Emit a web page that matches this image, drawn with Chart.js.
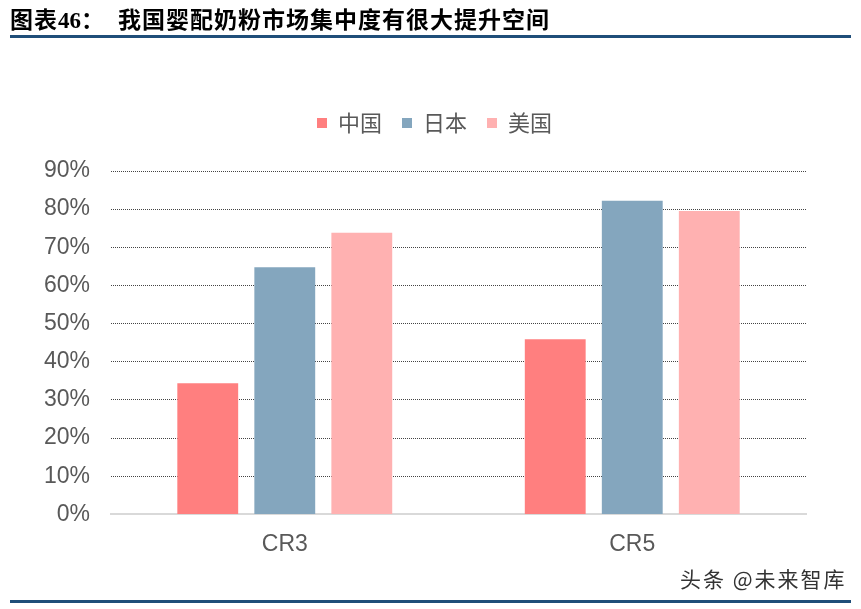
<!DOCTYPE html>
<html><head><meta charset="utf-8">
<script src="https://cdn.jsdelivr.net/npm/chart.js@4.4.1/dist/chart.umd.min.js"></script>
<style>
html,body{margin:0;padding:0;background:#fff;width:861px;height:609px;overflow:hidden;}
#wrap{position:absolute;left:0;top:0;width:861px;height:609px;}
.t{position:absolute;top:1px;font-family:"Noto Sans CJK SC",sans-serif;font-weight:bold;font-size:23px;color:#000;white-space:nowrap;letter-spacing:1px;}
.num{font-family:"Liberation Serif",serif;font-weight:bold;letter-spacing:0;}
.rule{position:absolute;left:10px;width:841px;height:3px;background:#1f4e79;}
#mark{position:absolute;left:680px;top:563px;font-family:"Noto Sans CJK SC",sans-serif;font-size:21px;color:#333;white-space:nowrap;letter-spacing:2px;}
canvas{position:absolute;left:0;top:0;}
</style></head>
<body><div id="wrap">
<canvas id="c" width="861" height="609"></canvas>
<div class="t" style="left:10px">图表<span class="num">46</span>：</div>
<div class="t" style="left:118px">我国婴配奶粉市场集中度有很大提升空间</div>
<div class="rule" style="top:35px"></div>
<div class="rule" style="top:600px"></div>
<div id="mark">头条 @未来智库</div>
</div>
<script>
const categories = ["CR3", "CR5"];
const seriesNames = ["中国", "日本", "美国"];
const china = [0.344, 0.459];
const japan = [0.648, 0.822];
const usa = [0.738, 0.795];
const yTicks = [0, 0.1, 0.2, 0.3, 0.4, 0.5, 0.6, 0.7, 0.8, 0.9];
const colors = ["#FF7F7F", "#84A6BE", "#FFB1B1"];

const values = [china, japan, usa];
const legendGap = {
  id: 'legendGap',
  beforeInit(chart) {
    const orig = chart.legend.fit;
    chart.legend.fit = function () { orig.call(this); this.height += 27; };
  },
  afterLayout(chart) {
    const lg = chart.legend;
    lg.left += 20; lg.right += 20;
  }
};
new Chart(document.getElementById('c'), {
  type: 'bar',
  data: {
    labels: categories,
    datasets: seriesNames.map((n, i) => ({
      label: n, data: values[i], backgroundColor: colors[i],
      borderWidth: 0, categoryPercentage: 0.665, barPercentage: 0.79
    }))
  },
  plugins: [legendGap],
  options: {
    responsive: false, animation: false,
    layout: {padding: {top: 92, left: 23, right: 55, bottom: 35}},
    plugins: {
      tooltip: {enabled: false},
      legend: {
        position: 'top',
        labels: {
          boxWidth: 10, boxHeight: 10, padding: 20,
          color: '#595959',
          font: {family: '"Noto Sans CJK SC", sans-serif', size: 22}
        }
      }
    },
    scales: {
      x: {
        grid: {display: false, drawTicks: false},
        border: {display: true, color: '#d9d9d9', width: 2},
        ticks: {color: '#595959', padding: 16, font: {family: '"Liberation Sans", Arial, sans-serif', size: 23}}
      },
      y: {
        min: 0, max: 0.9,
        afterBuildTicks: (s) => { s.ticks = yTicks.map(v => ({value: v})); },
        grid: {
          drawTicks: false,
          color: (ctx) => ctx.tick && ctx.tick.value === 0 ? 'rgba(0,0,0,0)' : '#444',
          lineWidth: 1
        },
        border: {display: false, dash: [1, 1]},
        ticks: {
          color: '#595959', padding: 21,
          font: {family: '"Liberation Sans", Arial, sans-serif', size: 23},
          callback: (v) => Math.round(v * 100) + '%'
        }
      }
    }
  }
});
</script>
</body></html>
